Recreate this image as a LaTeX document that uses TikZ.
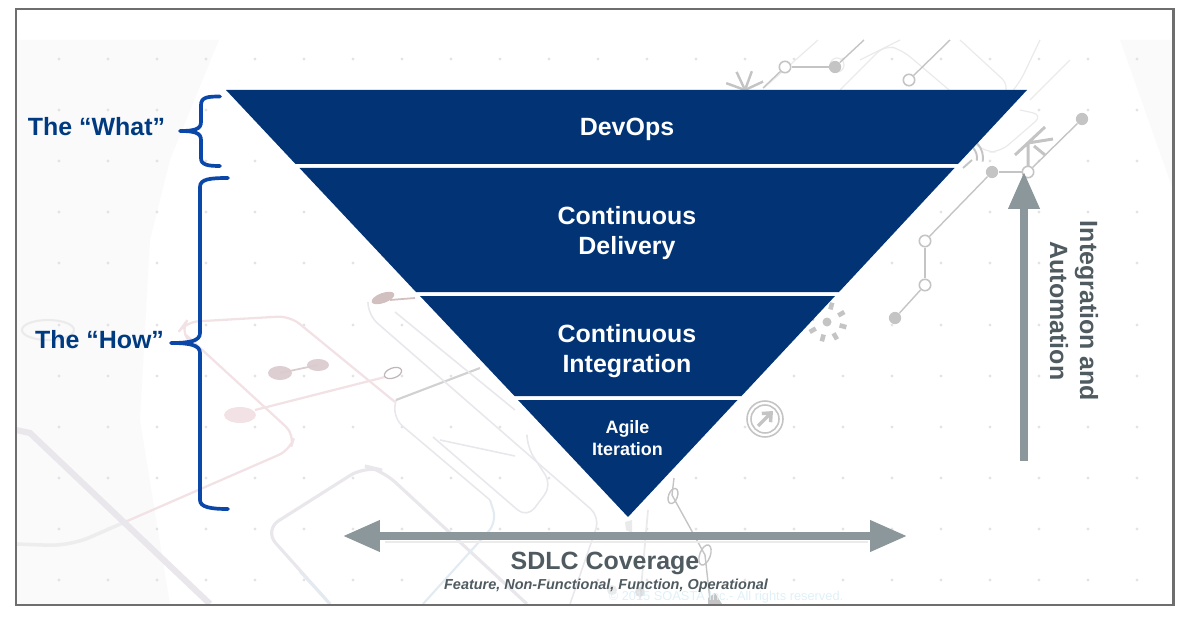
\documentclass[tikz,border=0pt]{standalone}
\usepackage{fontspec}
\setmainfont{Liberation Sans}
\usetikzlibrary{arrows.meta, shapes.geometric}
\definecolor{navy}{HTML}{013375}
\definecolor{bracecol}{HTML}{0A47A8}
\definecolor{labelcol}{HTML}{003A80}
\definecolor{arrowcol}{HTML}{8C979B}
\definecolor{textgrey}{HTML}{4F5B60}
\definecolor{framecol}{HTML}{6E6E6E}
\definecolor{circuit}{HTML}{C4C4C4}
\definecolor{circuitlight}{HTML}{EAEAEA}
\definecolor{pinkline}{HTML}{F2E2E5}
\definecolor{dustline}{HTML}{E9E7EC}
\definecolor{blueline}{HTML}{E2EAF2}
\definecolor{copycol}{HTML}{DFF0F8}
\tikzset{
	band/.style = {fill=navy},
	bandtext/.style = {text=white, font=\bfseries\fontsize{14.2}{17}\selectfont, align=center, inner sep=0pt},
	smalltext/.style = {text=white, font=\bfseries\fontsize{10.2}{12.5}\selectfont, align=center, inner sep=0pt},
	whattext/.style = {text=labelcol, font=\bfseries\fontsize{14.2}{17}\selectfont, inner sep=0pt},
	greytext/.style = {text=textgrey, font=\bfseries\fontsize{14.2}{17}\selectfont, align=center, inner sep=0pt},
	bracket/.style = {draw=bracecol, line width=2.1pt, line cap=round},
	bigarrow/.style = {draw=arrowcol, line width=4.2pt, -{Triangle[length=21pt, width=17pt]}},
	cfull/.style = {circle, fill=circuit, inner sep=0pt, minimum size=7pt},
	copen/.style = {circle, draw=circuit, fill=white, line width=0.9pt, inner sep=0pt, minimum size=6.5pt},
	cline/.style = {draw=circuit, line width=0.8pt},
	clight/.style = {draw=circuitlight, line width=0.7pt, rounded corners=6pt},
	pinktrace/.style = {draw=pinkline, line width=1.3pt, rounded corners=7pt},
	greytrace/.style = {draw=dustline, line width=0.9pt, rounded corners=7pt},
	bluetrace/.style = {draw=blueline, line width=1.2pt, rounded corners=7pt}
}
\begin{document}
\begin{tikzpicture}[x=0.02cm, y=-0.02cm]
	\useasboundingbox (0,0) rectangle (1186,618);

	% Background
	\begin{scope}
		\clip (16,40) rectangle (1173,604);
		\fill[black!2] (16,40) -- (219,40) -- (170,160) -- (150,240) -- (140,420) -- (170,604) -- (16,604) -- cycle;
		\fill[black!2] (1120,40) -- (1173,40) -- (1173,190) -- cycle;
		\foreach \gx in {59,108,...,1138}
			\foreach \gy in {59,110,161,212,263,325,376,427,478,529,580}
				\fill[black!11] (\gx,\gy) circle (1.7);

		% Traces on the left
		\draw[pinktrace] (190,342) -- (180,330) -- (186,322) -- (290,316) -- (395,402);
		\draw[pinktrace] (186,335) -- (295,435) -- (290,450) -- (125,522);
		\draw[draw=black!7, line width=2pt, rounded corners=12pt] (125,522) -- (70,546) -- (16,544);
		\draw[draw=black!8, line width=1.2pt] (22,330) arc (180:360:26 and 10) arc (0:180:26 and 10);
		\draw[line width=3.5pt, draw=dustline] (16,430) -- (30,433) -- (210,604);
		\draw[line width=1.8pt, draw=dustline, rounded corners=10pt] (330,604) -- (264,530) -- (365,466) -- (382,470) -- (527,604);
		\draw[bluetrace] (330,604) -- (300,572);
		\draw[bluetrace] (423,604) -- (497,522) -- (490,500);
		\draw[greytrace] (490,500) -- (393,418) -- (396,400);
		\draw[draw=black!18, line width=1.2pt] (396,400) -- (480,368);
		\draw[greytrace] (368,302) -- (368,315) -- (600,517) -- (570,604);
		\draw[greytrace] (395,312) -- (515,410);
		\draw[greytrace] (527,437) -- (527,447) -- (552,485) -- (527,518) -- (433,437);
		\draw[greytrace] (440,440) -- (515,456);

		\fill[pinkline!90!black!95] (280,373) ellipse (12 and 7);
		\fill[pinkline!90!black!95] (318,365) ellipse (11 and 6);
		\draw[pinkline!90!black, line width=1pt] (280,373) -- (318,365);
		\fill[pinkline] (240,415) ellipse (16 and 8);
		\draw[pinktrace] (255,410) -- (385,377);
		\draw[pinkline!80!black, line width=0.7pt, rotate around={20:(393,373)}] (393,373) ellipse (9 and 5);
		\fill[red!30!black!25, rotate around={20:(383,298)}] (383,298) ellipse (12 and 5);
		\draw[red!30!black!25, line width=1pt] (390,300) -- (415,298);

		% Traces at the top right
		\draw[clight] (840,90) -- (885,45) -- (902,50) -- (955,95);
		\draw[clight] (860,60) -- (900,40);
		\draw[clight] (960,40) -- (1010,86) -- (1006,92);
		\draw[clight] (1040,40) -- (1020,82) -- (1015,88);
		\draw[clight] (1070,60) -- (1030,100);
		\draw[clight] (1020,110) -- (1043,115) -- (1000,152) -- (985,152) -- (964,135);
		\draw[clight] (818,40) -- (764,88);
		\draw[clight, rounded corners=0pt] (830,65) arc (180:450:7);

		% Bottom traces
		\draw[cline] (674,478) -- (672,495) -- (705,555) -- (710,600);
		\node[draw=circuit, line width=0.8pt, ellipse, minimum width=9pt, minimum height=5pt, inner sep=0pt, rotate=70] (loopa) at (673,496) {};
		\node[draw=circuit, line width=0.8pt, ellipse, minimum width=12pt, minimum height=6pt, inner sep=0pt, rotate=70] (loopb) at (705,555) {};
		\fill[circuitlight] (625,522) -- (632,520) -- (632,533) -- (626,530) -- cycle;
		\draw[circuitlight, line width=1pt] (648,510) -- (640,600);
		\fill[circuit] (708,598) -- (715,593) -- (722,604) -- (708,604) -- cycle;
		\fill[circuitlight] (612,590) circle (5);
		\fill[circuit, opacity=0.5] (640,592) circle (5);

		% Small signs on the right
		\foreach \ang in {20,65,110,155,200} \draw[circuit, line width=1.4pt] (745,90) -- ++(\ang+180:20);
		\draw[circuit, line width=1.7pt] (1028,172) -- (1028,143) (1015,155) -- (1045,127) (1028,143) -- (1053,139) (1034,146) -- (1045,155);
		\draw[circuit, line width=1.1pt] (962,158) ++(-100:21) arc (-100:10:21);
		\draw[circuit, line width=1.1pt] (962,158) ++(-100:15) arc (-100:10:15);
		\draw[circuit, line width=1.1pt] (963,168) -- (972,160);
		\foreach \ang in {0,45,...,315} \draw[circuit, line width=2.6pt] (827,322) ++(\ang+15:13) -- ++(\ang+15:7);
		\fill[circuit] (827,322) circle (4.5);
		\draw[circuit, line width=0.9pt] (765,419) circle (18);
		\draw[circuit, line width=0.9pt] (765,419) circle (14);
		\draw[circuit, line width=2pt, -{Straight Barb[length=4pt, width=7pt]}] (758,426) -- (773,411);

		% Circuit nodes
		\node[cfull] (p1) at (1082,119) {};
		\node[copen] (p2) at (1028,172) {};
		\node[cfull] (p3) at (992,172) {};
		\node[copen] (p4) at (925,241) {};
		\node[copen] (p5) at (925,285) {};
		\node[cfull] (p6) at (895,318) {};
		\node[copen] (p7) at (785,67) {};
		\node[cfull] (p8) at (835,67) {};
		\node[copen] (p9) at (909,80) {};
		\coordinate (p10) at (864,40);
		\coordinate (p11) at (950,40);
		\coordinate (p12) at (763,88);
		\draw[cline] (p1) -- (p2);
		\draw[cline] (p2) -- (p3);
		\draw[cline] (p3) -- (p4);
		\draw[cline] (p4) -- (p5);
		\draw[cline] (p5) -- (p6);
		\draw[cline] (p7) -- (p8);
		\draw[cline] (p8) -- (p10);
		\draw[cline] (p9) -- (p11);
		\draw[cline] (p7) -- (p12);

		\node[text=copycol, font=\fontsize{7.3}{9}\selectfont, inner sep=0pt] (copyr) at (726,597) {© 2015 SOASTA Inc.- All rights reserved.};
	\end{scope}

	% Frame
	\draw[framecol, line width=1.4pt] (16,9) rectangle (1173.5,605);

	% Bands
	\fill[band] (226,90) -- (1027,90) -- (958,164) -- (295.5,164) -- cycle;
	\fill[band] (299.5,168) -- (954.5,168) -- (839,292) -- (416,292) -- cycle;
	\fill[band] (420,296) -- (835,296) -- (741.5,396) -- (514.5,396) -- cycle;
	\fill[band] (518,400) -- (737.5,400) -- (628,517) -- cycle;

	% Band labels
	\node[bandtext] (devops) at (627,129) {DevOps};
	\node[bandtext] (delivery) at (627,233) {Continuous\\Delivery};
	\node[bandtext] (integration) at (627,351) {Continuous\\Integration};
	\node[smalltext] (agile) at (627.5,438) {Agile\\Iteration};

	% Left labels and brackets
	\node[whattext] (what) at (96.5,127) {The “What”};
	\node[whattext] (how) at (99.5,340) {The “How”};
	\coordinate (whattip) at (180,131);
	\coordinate (howtip) at (171,343);
	\draw[bracket] (220,96.5) .. controls (208,96.5) and (201,97) .. (201,105) -- (201,122) .. controls (201,129) and (195,131) .. (whattip)
		(whattip) .. controls (195,131) and (201,133) .. (201,140) -- (201,158) .. controls (201,165) and (208,166) .. (220,166);
	\draw[bracket] (228,178) .. controls (210,178) and (200,179) .. (200,187) -- (200,333) .. controls (200,341) and (190,343) .. (howtip)
		(howtip) .. controls (190,343) and (200,345) .. (200,353) -- (200,500) .. controls (200,507) and (210,509) .. (228,509);

	% Arrows
	\coordinate (covleft) at (343,536);
	\coordinate (covright) at (907,536);
	\coordinate (autotop) at (1024,172);
	\coordinate (autoend) at (1024,461);
	\draw[black!8, line width=1.5pt] (385,542) -- (868,542);
	\draw[bigarrow, {Triangle[length=21pt, width=17pt]}-{Triangle[length=21pt, width=17pt]}] (covleft) -- (covright);
	\draw[bigarrow] (autoend) -- (autotop);

	% Axis labels
	\node[greytext] (sdlc) at (605,563) {SDLC Coverage};
	\node[text=textgrey, font=\bfseries\itshape\fontsize{8.23}{10}\selectfont, inner sep=0pt] (coverage) at (606,586) {Feature, Non-Functional, Function, Operational};
	\node[greytext, rotate=-90] (auto) at (1074,311) {Integration and\\Automation};
\end{tikzpicture}
\end{document}
